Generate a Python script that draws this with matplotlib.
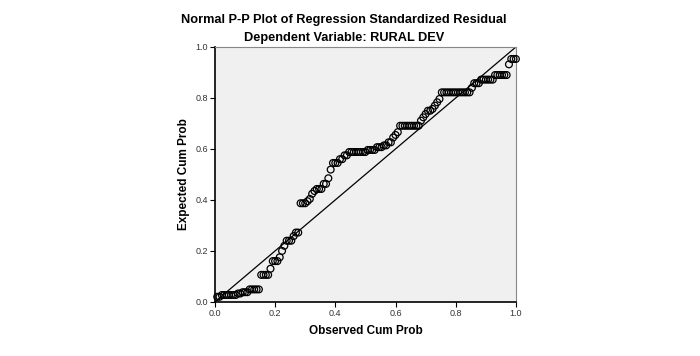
import numpy as np
import matplotlib
matplotlib.use("Agg")
import matplotlib.pyplot as plt

plt.rcParams['font.family'] = ['Liberation Sans', 'DejaVu Sans']

# expected cum prob per tied group of residuals, and how many cases share it
expected_levels = [0.020, 0.027, 0.033, 0.038, 0.049, 0.106, 0.130, 0.160, 0.175,
                   0.200, 0.220, 0.240, 0.258, 0.272, 0.387, 0.395, 0.404, 0.424,
                   0.435, 0.443, 0.463, 0.485, 0.519, 0.545, 0.560, 0.575, 0.588,
                   0.596, 0.607, 0.614, 0.626, 0.645, 0.655, 0.666, 0.691, 0.711,
                   0.724, 0.737, 0.750, 0.757, 0.770, 0.783, 0.796, 0.822, 0.840,
                   0.858, 0.872, 0.890, 0.932, 0.953]
group_counts = [2, 7, 2, 3, 5, 4, 1, 3, 1,
                1, 1, 3, 1, 2, 3, 1, 1, 1,
                1, 3, 2, 1, 1, 3, 2, 2, 8,
                4, 3, 2, 2, 1, 1, 1, 9, 1,
                1, 1, 2, 1, 1, 1, 1, 13, 1,
                3, 6, 6, 1, 3]

ticks = [0.0, 0.2, 0.4, 0.6, 0.8, 1.0]
tick_labels = ["0.0", "0.2", "0.4", "0.6", "0.8", "1.0"]

expected = np.repeat(expected_levels, group_counts)
n = len(expected)
observed = np.arange(1, n + 1) / n   # empirical cum prob

fig = plt.figure(figsize=(7.0, 3.56), dpi=100)
ax = fig.add_axes([0.307, 0.152, 0.43, 0.716])
ax.set_facecolor("#f0f0f0")

ax.plot([0, 1], [0, 1], color="black", lw=0.9, zorder=2)
ax.scatter(observed, expected, s=24, facecolors="none", edgecolors="black",
           linewidths=0.9, zorder=3, clip_on=False)

ax.set_xlim(0, 1)
ax.set_ylim(0, 1)
ax.set_xticks(ticks)
ax.set_xticklabels(tick_labels)
ax.set_yticks(ticks)
ax.set_yticklabels(tick_labels)
ax.tick_params(direction="out", length=3.5, width=0.8, labelsize=6.5,
               labelcolor="#333333", pad=1.5)

for side in ["left", "bottom"]:
    ax.spines[side].set_color("black")
    ax.spines[side].set_linewidth(1.2)
for side in ["top", "right"]:
    ax.spines[side].set_color("#888888")
    ax.spines[side].set_linewidth(0.8)

ax.set_xlabel("Observed Cum Prob", fontsize=8.5, fontweight="bold", labelpad=5)
ax.set_ylabel("Expected Cum Prob", fontsize=8.5, fontweight="bold", labelpad=4)

fig.text(0.491, 0.945, "Normal P-P Plot of Regression Standardized Residual",
         ha="center", va="center", fontsize=9.2, fontweight="bold")
fig.text(0.491, 0.892, "Dependent Variable: RURAL DEV",
         ha="center", va="center", fontsize=9.2, fontweight="bold")

fig.savefig("out.png", dpi=100, facecolor="white")
